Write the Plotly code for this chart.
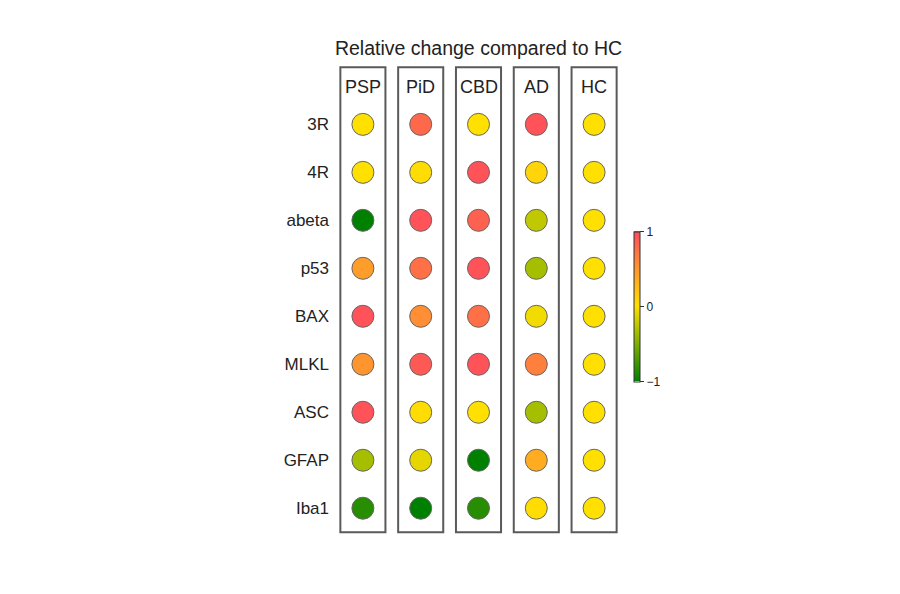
import plotly.graph_objects as go

groups = ["PSP", "PiD", "CBD", "AD", "HC"]
markers = ["3R", "4R", "abeta", "p53", "BAX", "MLKL", "ASC", "GFAP", "Iba1"]
# relative change values per group (rows follow `markers`)
PSP = [0.0, 0.0, -1.0, 0.45, 0.95, 0.5, 0.95, -0.35, -0.85]
PiD = [0.8, 0.03, 0.95, 0.75, 0.55, 0.9, 0.02, -0.1, -1.0]
CBD = [0.0, 0.95, 0.85, 0.95, 0.75, 0.95, 0.0, -1.0, -0.85]
AD = [0.95, 0.08, -0.25, -0.35, -0.05, 0.65, -0.35, 0.35, 0.02]
HC = [0.0, 0.0, 0.0, 0.0, 0.0, 0.0, 0.0, 0.0, 0.0]
values = [PSP, PiD, CBD, AD, HC]
colorscale = [[0.0, "#008000"], [0.5, "#FFE000"], [1.0, "#FF4A5E"]]

FONT = "Liberation Sans"
xs, ys, cs = [], [], []
for gi, g in enumerate(groups):
    for mi, m in enumerate(markers):
        xs.append(gi)
        ys.append(mi)
        cs.append(values[gi][mi])

# the page adds an 8px body margin, so shift everything up/left by 8px
L, T = 326, 54
PW, PH = 289, 475
R, B = 900 - L - PW, 594 - T - PH
CB_X, CB_YC = 626, 298.5  # colorbar left edge / vertical centre (page px)

fig = go.Figure()
fig.add_trace(go.Scatter(
    x=xs, y=ys, mode="markers",
    marker=dict(size=22, color=cs, cmin=-1, cmax=1, colorscale=colorscale,
                line=dict(color="#666666", width=1),
                showscale=True,
                colorbar=dict(x=(CB_X - L) / PW, xanchor="left",
                              y=(T + PH - CB_YC) / PH, yanchor="middle",
                              lenmode="pixels", len=150, thickness=6,
                              xpad=0, ypad=0,
                              outlinewidth=1, outlinecolor="#333333",
                              tickvals=[-1, 0, 1], ticktext=["\u22121", "0", "1"],
                              ticks="outside", ticklen=4, tickcolor="#333333",
                              tickfont=dict(size=12, color="#222222", family=FONT))),
    showlegend=False, hoverinfo="skip"))

n = len(markers)
for gi, g in enumerate(groups):
    fig.add_shape(type="rect", xref="x", yref="y",
                  x0=gi - 0.39, x1=gi + 0.39, y0=-1.19, y1=n - 1 + 0.5,
                  line=dict(color="#5a5a5a", width=2), fillcolor="rgba(0,0,0,0)",
                  layer="below")
    fig.add_annotation(x=gi, y=-0.77, xref="x", yref="y", text=g, showarrow=False,
                       font=dict(size=18, color="#222222", family=FONT))

fig.update_layout(
    width=900, height=594,
    margin=dict(l=L, r=R, t=T, b=B, autoexpand=False),
    paper_bgcolor="white", plot_bgcolor="white",
    font=dict(family=FONT),
    title=dict(text="Relative change compared to HC", x=0.5, xref="paper",
               y=1 - 40 / 594, yref="container", yanchor="middle", xanchor="center",
               font=dict(size=19.5, color="#222222", family=FONT)),
    xaxis=dict(range=[-0.5, len(groups) - 0.5], showgrid=False, zeroline=False,
               showticklabels=False, showline=False, fixedrange=True),
    yaxis=dict(range=[n - 1 + 0.6, -1.3], showgrid=False, zeroline=False,
               tickvals=list(range(n)), ticktext=markers, ticks="",
               ticklabelstandoff=4,
               tickfont=dict(size=17, color="#222222", family=FONT),
               showline=False),
)

fig.write_html("out.html")
